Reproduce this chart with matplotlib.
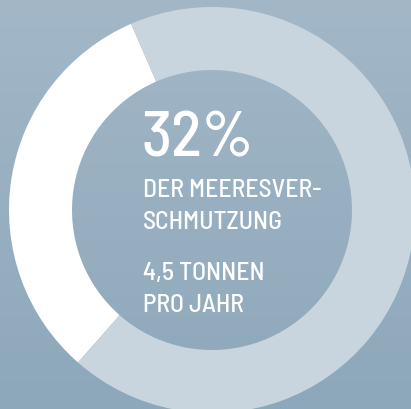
import numpy as np
import matplotlib
matplotlib.use("Agg")
import matplotlib.pyplot as plt

# Data
shares = [32, 68]
share_colors = ["#ffffff", "#c8d5de"]
headline = "32%"
label_lines = ["DER MEERESVER-", "SCHMUTZUNG"]
amount_lines = ["4,5 TONNEN", "PRO JAHR"]

W, H = 411, 410
fig = plt.figure(figsize=(W / 100, H / 100), dpi=100)
ax = fig.add_axes([0, 0, 1, 1])

# background gradient (top lighter, bottom darker)
top = np.array([0xa3, 0xb7, 0xc7]) / 255
bot = np.array([0x8d, 0xa8, 0xbb]) / 255
t = np.linspace(0, 1, 256)[:, None]
grad = top[None, :] * (1 - t) + bot[None, :] * t
img = np.repeat(grad[:, None, :], 2, axis=1)
ax.imshow(img, extent=[0, W, 0, H], origin="upper", aspect="auto", zorder=0)

cx, cy = 212, H - 211
R = 203
ax.pie(shares, colors=share_colors, startangle=113.5,
       counterclock=True, radius=R, center=(cx, cy),
       wedgeprops=dict(width=63, linewidth=0), frame=True)
ax.set_xlim(0, W)
ax.set_ylim(0, H)
ax.set_aspect("equal")
ax.axis("off")

fam = ["Barlow Semi Condensed", "DejaVu Sans"]

x0 = 141
ax.text(x0, H - 157, headline, color="white", fontsize=46, family=fam,
        weight="medium", ha="left", va="baseline", zorder=5)
for txt, yb in zip(label_lines + amount_lines, [197, 229, 280, 312]):
    ax.text(x0 + 2, H - yb, txt, color="white", fontsize=18.5, family=fam,
            weight="medium", ha="left", va="baseline", zorder=5)

fig.savefig("out.png", dpi=100)
